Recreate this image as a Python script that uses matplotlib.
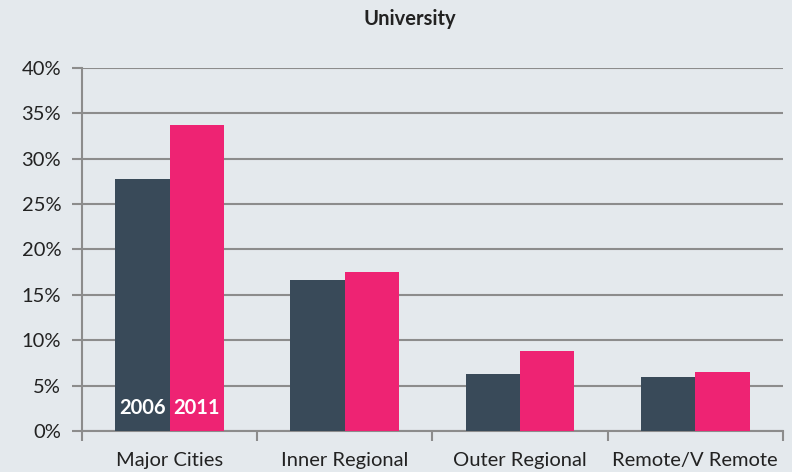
import matplotlib.pyplot as plt
import numpy as np

# data
categories = ["Major Cities", "Inner Regional", "Outer Regional", "Remote/V Remote"]
years = ["2006", "2011"]
vals_2006 = [27.8, 16.6, 6.3, 5.9]
vals_2011 = [33.7, 17.5, 8.8, 6.5]

bg = "#E4E9ED"
col_2006 = "#394A59"
col_2011 = "#EE2373"
grid_col = "#8C8C8C"

plt.rcParams['font.family'] = ['Lato', 'DejaVu Sans']

fig = plt.figure(figsize=(7.92, 4.72), dpi=100, facecolor=bg)
ax = fig.add_axes([0.1035, 0.087, 0.885, 0.769], facecolor=bg)

x = np.arange(len(categories))
w = 0.31
ax.bar(x - w / 2, vals_2006, w, color=col_2006, zorder=3)
ax.bar(x + w / 2, vals_2011, w, color=col_2011, zorder=3)

# year labels inside first group
ax.text(x[0] - w / 2, 2.5, years[0], color="white", fontsize=14.5,
        fontweight="bold", ha="center", va="center", zorder=4)
ax.text(x[0] + w / 2, 2.5, years[1], color="white", fontsize=14.5,
        fontweight="bold", ha="center", va="center", zorder=4)

ax.set_xlim(-0.5, len(categories) - 0.5)
ax.set_ylim(0, 40)
ax.set_yticks(np.arange(0, 41, 5))
ax.set_yticklabels([f"{v}%" for v in range(0, 41, 5)], fontsize=14.5, color="#222222")
ax.yaxis.grid(True, color=grid_col, linewidth=1.5, zorder=0)

ax.set_xticks(x)
ax.set_xticklabels(categories, fontsize=14.5, color="#222222")
ax.set_xticks(np.arange(-0.5, len(categories)), minor=True)
ax.tick_params(axis="x", which="major", length=0, pad=15)
ax.tick_params(axis="x", which="minor", length=7, width=1.5, color=grid_col)
ax.tick_params(axis="y", length=7, width=1.5, color=grid_col, pad=8)

for s in ["top", "right"]:
    ax.spines[s].set_visible(False)
ax.spines["left"].set_color(grid_col)
ax.spines["left"].set_linewidth(1.5)
ax.spines["bottom"].set_color(grid_col)
ax.spines["bottom"].set_linewidth(1.5)

fig.text(0.517, 0.96, "University", ha="center", va="center",
         fontsize=14.5, fontweight="bold", color="#222222")

fig.savefig("out.png", dpi=100, facecolor=bg)
